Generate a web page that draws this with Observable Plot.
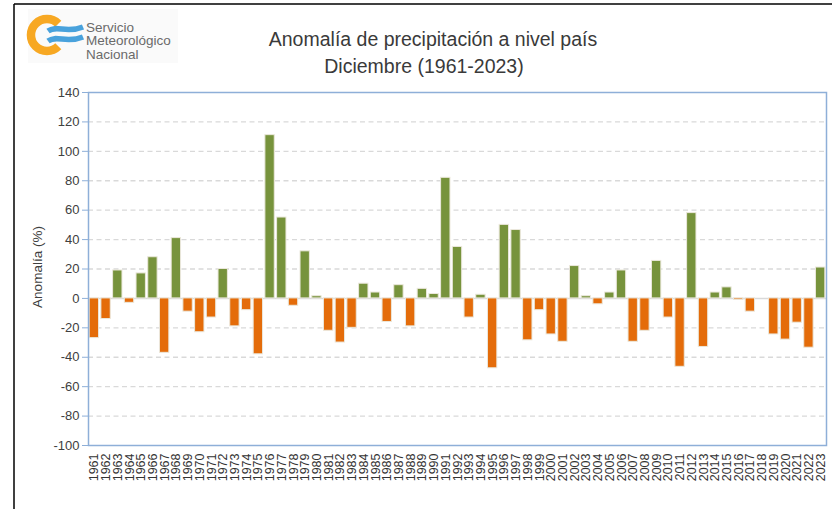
<!DOCTYPE html>
<html>
<head>
<meta charset="utf-8">
<script src="https://cdn.jsdelivr.net/npm/d3@7"></script>
<script src="https://cdn.jsdelivr.net/npm/@observablehq/plot@0.6"></script>
<style>
  html, body { margin: 0; padding: 0; background: #fff; }
  #wrap { position: relative; width: 832px; height: 509px; overflow: hidden; background: #fff; font-family: "Liberation Sans", Arial, sans-serif; }
  #chart { position: absolute; left: 0; top: 0; }
  #overlay { position: absolute; left: 0; top: 0; pointer-events: none; }
</style>
</head>
<body>
<div id="wrap">
  <div id="chart"></div>
  <svg id="overlay" width="832" height="509">
    <!-- outer border -->
    <line x1="14" y1="4" x2="832" y2="4" stroke="#000" stroke-width="1.5"/>
    <line x1="14" y1="4" x2="14" y2="509" stroke="#000" stroke-width="1.5"/>
    <!-- logo -->
    <rect x="28" y="9" width="150" height="54" fill="#fafafa"/>
    <path d="M58.3,23.7 A16,16 0 1 0 58.3,46.3" fill="none" stroke="#f7a823" stroke-width="8.5"/>
    <path d="M48,31 C57,24.5 66,34 83,27" fill="none" stroke="#49a2dc" stroke-width="5.5"/>
    <path d="M48,41 C57,34.5 66,44 83,37" fill="none" stroke="#49a2dc" stroke-width="5.5"/>
    <g font-family="Liberation Sans, Arial, sans-serif" font-size="13.5" fill="#6a6a6a">
      <text x="86" y="31.5">Servicio</text>
      <text x="86" y="45">Meteorológico</text>
      <text x="86" y="58.5">Nacional</text>
    </g>
    <!-- title -->
    <g font-family="Liberation Sans, Arial, sans-serif" font-size="19.5" fill="#3a3a3a" text-anchor="middle">
      <text x="433" y="46">Anomalía de precipitación a nivel país</text>
      <text x="424" y="73">Diciembre (1961-2023)</text>
    </g>
    <!-- y label -->
    <text transform="translate(42,267) rotate(-90)" text-anchor="middle" font-family="Liberation Sans, Arial, sans-serif" font-size="13.5" fill="#404040">Anomalía (%)</text>
  </svg>
</div>
<script>
const years = ["1961","1962","1963","1964","1965","1966","1967","1968","1969","1970",
  "1971","1972","1973","1974","1975","1976","1977","1978","1979","1980",
  "1981","1982","1983","1984","1985","1986","1987","1988","1989","1990",
  "1991","1992","1993","1994","1995","1996","1997","1998","1999","2000",
  "2001","2002","2003","2004","2005","2006","2007","2008","2009","2010",
  "2011","2012","2013","2014","2015","2016","2017","2018","2019","2020",
  "2021","2022","2023"];

const anomaly = [-27, -14, 19, -3, 17, 28, -37, 41, -9, -23,
  -13, 20, -19, -8, -38, 111, 55, -5, 32, 1.5,
  -22, -30, -20, 10, 4, -16, 9, -19, 6.5, 3,
  82, 35, -13, 2.5, -47.5, 50, 46.5, -28.5, -8, -24.5,
  -29.5, 22, 1.5, -4, 4, 19, -29.5, -22, 25.5, -13,
  -46.5, 58, -33, 4, 7.5, -1, -9, 0, -24.5, -28,
  -16.5, -33.5, 21];

const yTicks = [-100, -80, -60, -40, -20, 0, 20, 40, 60, 80, 100, 120, 140];
const gridTicks = [-80, -60, -40, -20, 20, 40, 60, 80, 100, 120];

const positiveColor = "#77933c";
const negativeColor = "#e46c0a";

const data = years.map((y, i) => ({year: y, value: anomaly[i]}));

const chart = Plot.plot({
  width: 832,
  height: 509,
  marginLeft: 88,
  marginRight: 6,
  marginTop: 92,
  marginBottom: 64,
  style: {fontFamily: "Liberation Sans, Arial, sans-serif", background: "transparent"},
  x: {type: "band", domain: years, paddingInner: 0.2, paddingOuter: 0.1, label: null},
  y: {domain: [-100, 140], label: null},
  color: {type: "identity"},
  marks: [
    Plot.ruleY(gridTicks, {stroke: "#d9d9d9", strokeWidth: 1.3, strokeDasharray: "5,3.5"}),
    Plot.ruleY([0], {stroke: "#d9d9d9", strokeWidth: 1.5}),
    Plot.barY(data, {
      x: "year",
      y: "value",
      fill: d => d.value >= 0 ? positiveColor : negativeColor,
      stroke: "#ebe8dc",
      strokeWidth: 1
    }),
    Plot.frame({stroke: "#8eafd8", strokeWidth: 1.5}),
    Plot.axisY({ticks: yTicks, tickFormat: d => String(d), tickSize: 6, tickPadding: 3, fontSize: 13, stroke: "#8eafd8", fill: "#404040", label: null}),
    Plot.axisX({tickRotate: -90, tickSize: 0, tickPadding: 8, fontSize: 12.5, fill: "#333", label: null})
  ]
});
document.getElementById("chart").appendChild(chart);
</script>
</body>
</html>
